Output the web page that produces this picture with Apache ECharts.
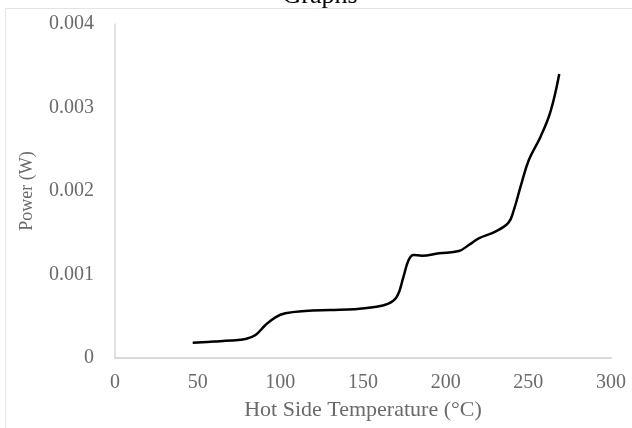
<!DOCTYPE html>
<html>
<head>
<meta charset="utf-8">
<script src="https://cdn.jsdelivr.net/npm/echarts@6/dist/echarts.min.js"></script>
<style>
html,body{margin:0;padding:0;background:#fff;}
#chart{width:632px;height:428px;}
</style>
</head>
<body>
<div id="chart"></div>
<script>
const temperature = [47, 60, 70, 79, 85, 91, 97, 103, 115, 130, 145, 156, 165, 170.5, 174.5, 177.6, 180.6, 185.6, 196, 208, 214, 220, 230, 238, 241.2, 245.3, 250.3, 257.4, 263.4, 268.7];
const power = [0.000183, 0.000198, 0.00021, 0.000228, 0.000275, 0.000395, 0.000487, 0.000535, 0.000563, 0.000575, 0.000585, 0.000607, 0.000647, 0.000734, 0.000974, 0.001174, 0.001234, 0.001225, 0.001254, 0.001281, 0.001353, 0.001433, 0.001513, 0.001621, 0.001772, 0.002052, 0.002371, 0.002651, 0.00295, 0.003401];
const xTicks = [0, 50, 100, 150, 200, 250, 300];
const yTicks = [0, 0.001, 0.002, 0.003, 0.004];

const chart = echarts.init(document.getElementById('chart'));
const serif = '"Liberation Serif", "DejaVu Serif", serif';
chart.setOption({
  animation: false,
  backgroundColor: '#ffffff',
  graphic: [
    {type: 'rect', shape: {x: 5.5, y: 8.5, width: 640, height: 440}, style: {fill: 'none', stroke: '#e4e4e4', lineWidth: 1}, z: -1},
    {type: 'text', style: {text: 'Graphs', x: 320, y: 9, textAlign: 'center', textVerticalAlign: 'bottom', font: '26px ' + serif, fill: '#000'}}
  ],
  grid: {left: 115, right: 21, top: 24, bottom: 70},
  xAxis: {
    type: 'value',
    min: xTicks[0], max: xTicks[xTicks.length - 1], interval: 50,
    name: 'Hot Side Temperature (°C)',
    nameLocation: 'middle', nameGap: 41,
    nameTextStyle: {fontFamily: serif, fontSize: 22, color: '#6a6a6a'},
    axisLine: {show: true, lineStyle: {color: '#d9d9d9', width: 2}},
    axisTick: {show: false},
    splitLine: {show: false},
    axisLabel: {fontFamily: serif, fontSize: 20, color: '#6a6a6a', margin: 15}
  },
  yAxis: {
    type: 'value',
    min: yTicks[0], max: yTicks[yTicks.length - 1], interval: 0.001,
    name: 'Power (W)',
    nameLocation: 'middle', nameGap: 79, nameRotate: 90,
    nameTextStyle: {fontFamily: serif, fontSize: 18, color: '#6a6a6a'},
    axisLine: {show: true, lineStyle: {color: '#d9d9d9', width: 1.5}},
    axisTick: {show: false},
    splitLine: {show: false},
    axisLabel: {fontFamily: serif, fontSize: 20, color: '#6a6a6a', margin: 21,
      formatter: v => v === 0 ? '0' : v.toFixed(3)}
  },
  series: [{
    type: 'line',
    data: temperature.map((t, i) => [t, power[i]]),
    smooth: 0.4,
    showSymbol: false,
    lineStyle: {color: '#000000', width: 2.5}
  }]
});
</script>
</body>
</html>
